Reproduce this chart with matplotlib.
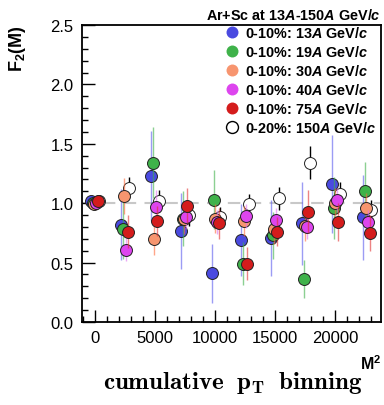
import matplotlib
matplotlib.use('Agg')
import matplotlib.pyplot as plt
from matplotlib.lines import Line2D
from matplotlib.ticker import MultipleLocator

plt.rcParams['font.family'] = ['Liberation Sans', 'DejaVu Sans']
plt.rcParams['mathtext.fontset'] = 'custom'
plt.rcParams['mathtext.rm'] = 'Liberation Sans:bold'
plt.rcParams['mathtext.bf'] = 'Liberation Sans:bold'
plt.rcParams['mathtext.it'] = 'Liberation Sans:bold:italic'

# M^2 bin centres (cumulative pT binning) and small shift per energy
m2_bins = [1, 2500, 5000, 7500, 10100, 12500, 15000, 17600, 20100, 22700]
shifts = [-330, -200, -70, 70, 200, 330]

labels = ['0-10%: 13$\\mathit{A}$ GeV/$\\mathit{c}$',
          '0-10%: 19$\\mathit{A}$ GeV/$\\mathit{c}$',
          '0-10%: 30$\\mathit{A}$ GeV/$\\mathit{c}$',
          '0-10%: 40$\\mathit{A}$ GeV/$\\mathit{c}$',
          '0-10%: 75$\\mathit{A}$ GeV/$\\mathit{c}$',
          '0-20%: 150$\\mathit{A}$ GeV/$\\mathit{c}$']
colors = ['#4a4ae0', '#3fb24a', '#f7956f', '#dd45ee', '#d41c1c', 'white']
bar_colors = ['#5a5aee', '#3fb24a', '#ff6a3a', '#e070f0', '#e03030', 'black']

f2_13 = [1.02, 0.82, 1.23, 0.77, 0.41, 0.69, 0.71, 0.83, 1.16, 0.88]
err_13 = [0.02, 0.30, 0.38, 0.32, 0.25, 0.30, 0.32, 0.35, 0.41, 0.36]
f2_19 = [1.00, 0.78, 1.34, 0.87, 1.03, 0.49, 0.73, 0.36, 0.96, 1.10]
err_19 = [0.02, 0.25, 0.30, 0.23, 0.25, 0.18, 0.20, 0.16, 0.26, 0.25]
f2_30 = [0.99, 1.06, 0.70, 0.87, 0.87, 0.85, 0.78, 0.81, 1.00, 0.96]
err_30 = [0.02, 0.15, 0.14, 0.13, 0.12, 0.13, 0.12, 0.13, 0.13, 0.13]
f2_40 = [1.00, 0.61, 0.97, 0.88, 0.84, 0.89, 0.86, 0.80, 1.03, 0.84]
err_40 = [0.02, 0.10, 0.14, 0.10, 0.10, 0.10, 0.10, 0.10, 0.10, 0.10]
f2_75 = [1.02, 0.76, 0.85, 0.98, 0.83, 0.49, 0.76, 0.93, 0.84, 0.75]
err_75 = [0.02, 0.14, 0.13, 0.15, 0.13, 0.14, 0.12, 0.18, 0.16, 0.15]
f2_150 = [1.02, 1.13, 1.02, 0.90, 0.88, 0.99, 1.04, 1.34, 1.08, 0.94]
err_150 = [0.02, 0.09, 0.09, 0.09, 0.09, 0.09, 0.10, 0.14, 0.10, 0.09]

values = [f2_13, f2_19, f2_30, f2_40, f2_75, f2_150]
errors = [err_13, err_19, err_30, err_40, err_75, err_150]
# open 150A points sit underneath the others
zorders = [4, 5, 6, 7, 8, 3]

fig = plt.figure(figsize=(3.84, 4.06), dpi=100)
ax = fig.add_axes([82 / 384, 83 / 406, 299 / 384, 297 / 406])

ax.axhline(1.0, color='#c8c8c8', lw=1.5, ls=(0, (6, 4)), zorder=1)

for i in range(6):
    xs = [m + shifts[i] for m in m2_bins]
    ax.errorbar(xs, values[i], yerr=errors[i], fmt='o', ms=8.6,
                mfc=colors[i], mec='#222222', mew=0.7,
                ecolor=bar_colors[i], elinewidth=1.0, capsize=0,
                zorder=zorders[i])
    # lighter error bars like in the original
    if i < 5:
        ax.collections[-1].set_alpha(0.6)

ax.set_xlim(-1100, 23850)
ax.set_ylim(0, 2.5)
ax.xaxis.set_major_locator(MultipleLocator(5000))
ax.xaxis.set_minor_locator(MultipleLocator(1000))
ax.yaxis.set_major_locator(MultipleLocator(0.5))
ax.yaxis.set_minor_locator(MultipleLocator(0.1))
ax.yaxis.set_major_formatter(plt.FormatStrFormatter('%.1f'))
ax.tick_params(which='both', direction='in', top=False, right=False,
               labelsize=12, width=1.0)
ax.tick_params(which='major', length=9, pad=6)
ax.tick_params(which='minor', length=4.5)
for s in ax.spines.values():
    s.set_linewidth(1.3)

handles = [Line2D([], [], ls='none', marker='o', ms=8.6, mfc=colors[i],
                  mec='none' if i < 5 else 'black', mew=1.0)
           for i in range(6)]
leg = ax.legend(handles, labels, loc='upper left', bbox_to_anchor=(225 / 384, 1 - 26 / 406),
                bbox_transform=fig.transFigure, frameon=False,
                prop={'weight': 'bold', 'size': 10.4}, handlelength=1.0,
                handletextpad=0.4, labelspacing=0.28, borderpad=0, borderaxespad=0)

fig.text(381 / 384, 1 - 15 / 406, 'Ar+Sc at 13$\\mathit{A}$-150$\\mathit{A}$ GeV/$\\mathit{c}$',
         ha='right', va='center', fontsize=10.4, fontweight='bold')
fig.text(18 / 384, 1 - 25 / 406, 'F$_\\mathbf{2}$(M)', rotation=90, ha='center', va='top',
         fontsize=13, fontweight='bold')
fig.text(381 / 384, 1 - 370 / 406, 'M$^\\mathbf{2}$', ha='right', va='baseline',
         fontsize=11.5, fontweight='bold')
fig.text(233 / 384, 1 - 389 / 406, r'$\mathbf{cumulative\ \;p_T\ \;binning}$',
         ha='center', va='baseline', fontsize=18, math_fontfamily='cm')

fig.savefig('out.png', dpi=100)
